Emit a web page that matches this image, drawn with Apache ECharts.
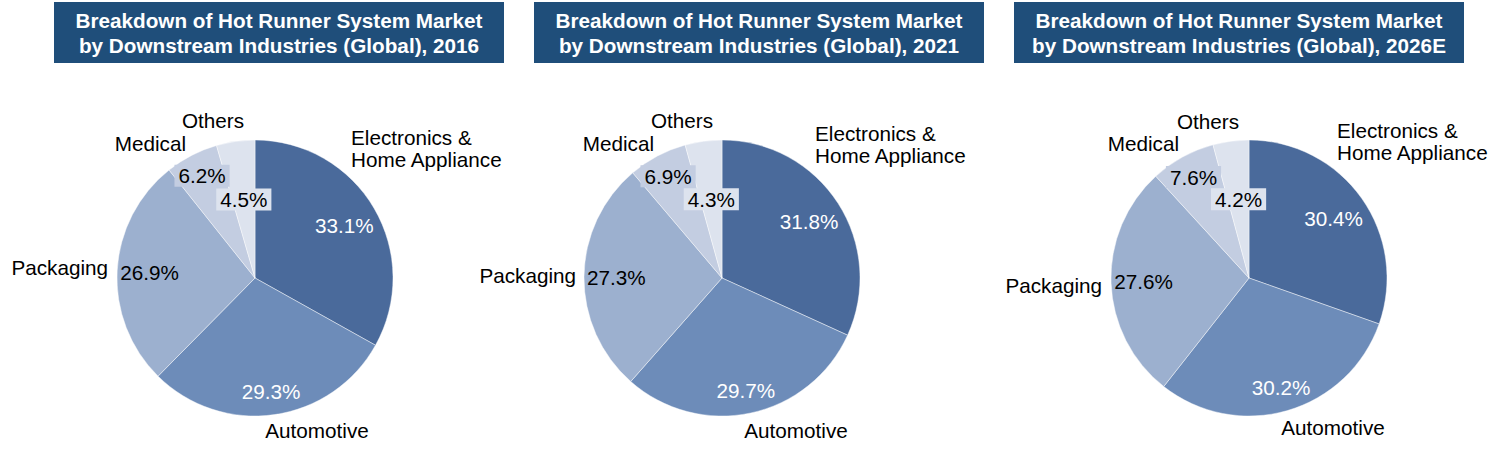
<!DOCTYPE html>
<html>
<head>
<meta charset="utf-8">
<script src="https://cdn.jsdelivr.net/npm/echarts@6/dist/echarts.min.js"></script>
<style>
html,body{margin:0;padding:0;background:#fff;}
#chart{width:1501px;height:455px;}
</style>
</head>
<body>
<div id="chart"></div>
<script>
// ---- data ----
const categories = ['Electronics & Home Appliance', 'Automotive', 'Packaging', 'Medical', 'Others'];
const categoryLabels = ['Electronics &\nHome Appliance', 'Automotive', 'Packaging', 'Medical', 'Others'];
const years = ['2016', '2021', '2026E'];
const share2016 = [33.1, 29.3, 26.9, 6.2, 4.5];
const share2021 = [31.8, 29.7, 27.3, 6.9, 4.3];
const share2026E = [30.4, 30.2, 27.6, 7.6, 4.2];
const titles = [
  'Breakdown of Hot Runner System Market\nby Downstream Industries (Global), 2016',
  'Breakdown of Hot Runner System Market\nby Downstream Industries (Global), 2021',
  'Breakdown of Hot Runner System Market\nby Downstream Industries (Global), 2026E'
];

// ---- layout / style ----
const FONT = '"Liberation Sans", Arial, sans-serif';
const FS = 20.7;
const sliceColors = ['#4a6a9b', '#6d8cb9', '#9cb0cf', '#c3cde1', '#dde3ee'];
const pctColors = ['#ffffff', '#ffffff', '#000000', '#000000', '#000000'];
const pctBg = [null, null, null, '#c3cde1', '#dde3ee'];
const pctRadiusFactor = [0.75, 0.83, 0.765, 0.835, 0.575];
const centers = [[255, 278], [722, 278], [1249, 278]];
const R = 138;
const titleBoxes = [54, 534, 1014];
// name label anchor offsets relative to pie center [dx, dy, align]
const nameOffsets = [
  [[96, -130, 'left'], [62, 152, 'center'], [-147, -11, 'right'], [-69, -135, 'right'], [-42, -158, 'center']],
  [[93, -134, 'left'], [74, 152, 'center'], [-146, -3, 'right'], [-68, -135, 'right'], [-40, -158, 'center']],
  [[88, -137, 'left'], [84, 149, 'center'], [-147, 7, 'right'], [-70, -135, 'right'], [-41, -157, 'center']]
];

const allShares = [share2016, share2021, share2026E];

const chart = echarts.init(document.getElementById('chart'), null, {renderer: 'svg'});

const series = [];
const graphics = [];

allShares.forEach((vals, ci) => {
  const [cx, cy] = centers[ci];
  const total = vals.reduce((a, b) => a + b, 0);
  const mids = [];
  let acc = 0;
  vals.forEach(v => { mids.push((acc + v / 2) / total * Math.PI * 2); acc += v; });

  const data = vals.map((v, i) => ({
    name: categories[i],
    value: v,
    itemStyle: {color: sliceColors[i]},
    label: {
      color: pctColors[i],
      backgroundColor: pctBg[i] || 'transparent',
      padding: pctBg[i] ? [1, 4] : 0
    }
  }));

  series.push({
    type: 'pie',
    center: [cx, cy],
    radius: [0, R],
    startAngle: 90,
    clockwise: true,
    animation: false,
    silent: true,
    avoidLabelOverlap: false,
    itemStyle: {borderColor: 'rgba(255,255,255,0.55)', borderWidth: 0.8},
    label: {
      show: true,
      position: 'inside',
      formatter: p => p.value.toFixed(1) + '%',
      fontFamily: FONT,
      fontSize: FS,
      lineHeight: 20
    },
    labelLine: {show: false},
    labelLayout: (p) => {
      const a = mids[p.dataIndex];
      const d = R * pctRadiusFactor[p.dataIndex];
      return {x: cx + Math.sin(a) * d, y: cy - Math.cos(a) * d, align: 'center', verticalAlign: 'middle'};
    },
    data: data
  });

  series.push({
    type: 'pie',
    center: [cx, cy],
    radius: [0, R],
    startAngle: 90,
    clockwise: true,
    animation: false,
    silent: true,
    z: 1,
    avoidLabelOverlap: false,
    itemStyle: {color: 'rgba(0,0,0,0)'},
    label: {
      show: true,
      position: 'outside',
      formatter: p => categoryLabels[p.dataIndex],
      fontFamily: FONT,
      fontSize: FS,
      lineHeight: 22,
      color: '#000'
    },
    labelLine: {show: false},
    labelLayout: (p) => {
      const o = nameOffsets[ci][p.dataIndex];
      return {x: cx + o[0], y: cy + o[1], align: o[2], verticalAlign: 'middle'};
    },
    data: vals.map((v, i) => ({name: categories[i], value: v}))
  });

  const bx = titleBoxes[ci];
  graphics.push({
    type: 'rect',
    shape: {x: bx, y: 2, width: 450, height: 61},
    style: {fill: '#1f4e7a'},
    silent: true
  });
  graphics.push({
    type: 'text',
    x: bx + 225,
    y: 33,
    style: {
      text: titles[ci],
      fill: '#ffffff',
      font: 'bold ' + FS + 'px ' + FONT,
      align: 'center',
      verticalAlign: 'middle',
      lineHeight: 25
    },
    silent: true
  });
});

chart.setOption({
  backgroundColor: '#ffffff',
  animation: false,
  graphic: graphics,
  series: series
});
</script>
</body>
</html>
